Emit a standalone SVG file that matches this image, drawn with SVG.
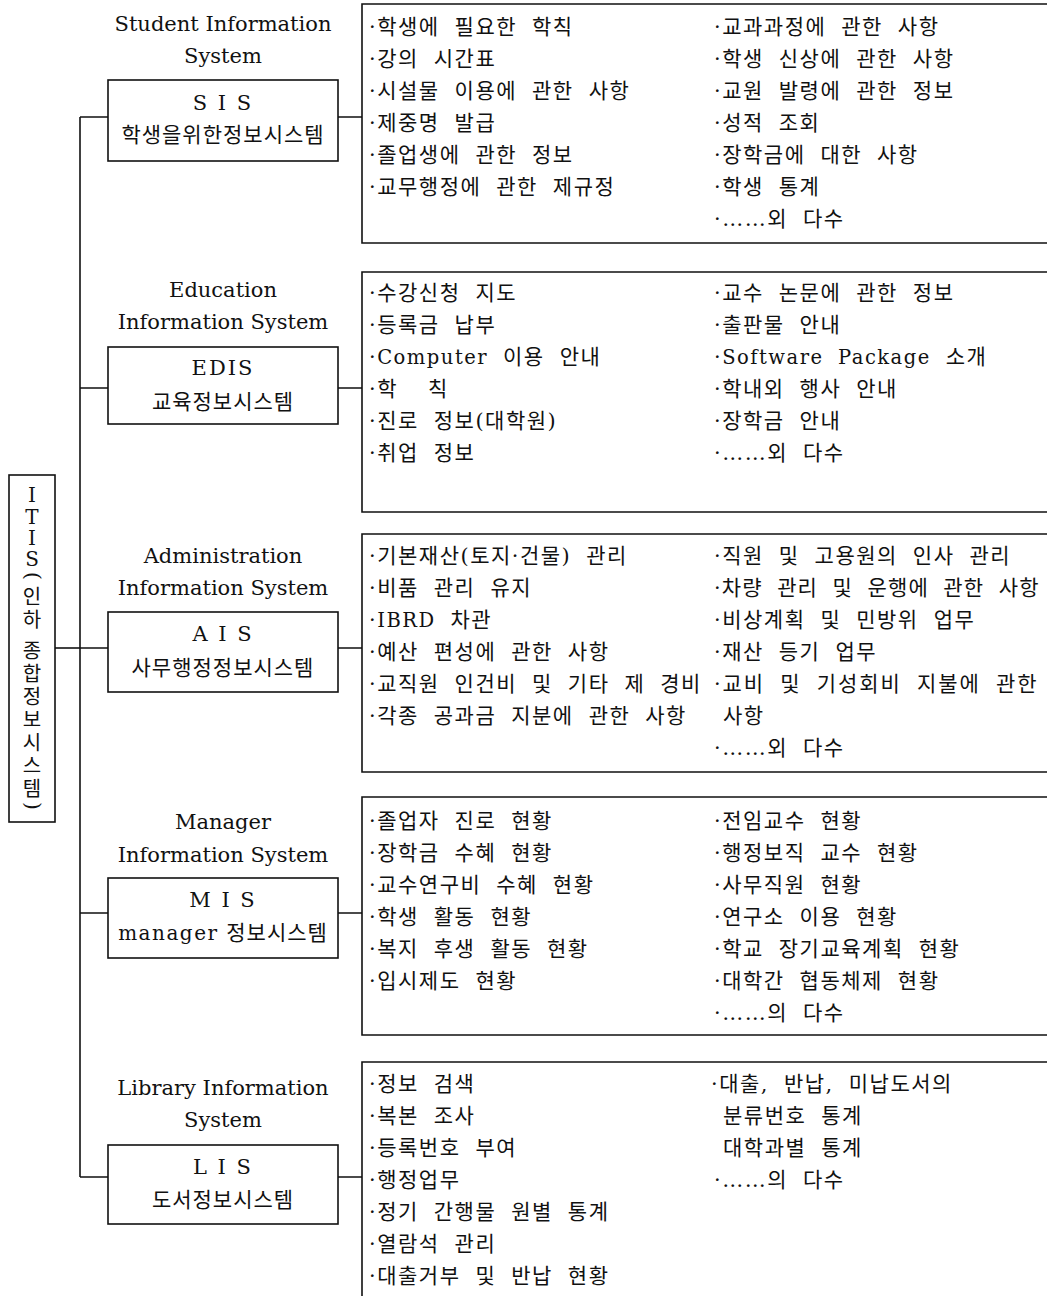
<svg xmlns="http://www.w3.org/2000/svg" width="1047" height="1296" viewBox="0 0 1047 1296">
<style>
.bg{fill:#fff}
.ln{stroke:#111;stroke-width:1.6;fill:none}
.box{stroke:#111;stroke-width:1.6;fill:none}
.ttl{font-family:"DejaVu Serif","Liberation Serif",serif;font-size:21px;fill:#111;text-anchor:middle}
.code{font-family:"DejaVu Serif","Liberation Serif",serif;font-size:21px;fill:#111;text-anchor:middle;letter-spacing:2px}
.kn{font-family:"DejaVu Serif","Noto Sans CJK KR",sans-serif;font-size:21px;fill:#111;text-anchor:middle;letter-spacing:1px}
.it{font-family:"DejaVu Serif","Noto Sans CJK KR",sans-serif;font-size:21px;fill:#111;letter-spacing:1.5px;word-spacing:6.8px}
.lat{font-size:19.5px}
.lat2{font-size:20px;letter-spacing:1.5px}
.vt{font-family:"DejaVu Serif","Noto Sans CJK KR",sans-serif;font-size:20px;fill:#111;text-anchor:middle}
</style>
<rect class="bg" x="0" y="0" width="1047" height="1296"/>

<g id="connectors">
  <path class="ln" d="M55,648 H80"/>
  <path class="ln" d="M80,117 V1177"/>
  <path class="ln" d="M80,117 H108 M80,388 H108 M80,648 H108 M80,913 H108 M80,1177 H108"/>
  <path class="ln" d="M338,117 H362 M338,388 H362 M338,648 H362 M338,913 H362 M338,1177 H362"/>
</g>

<g id="itis">
  <rect class="box" x="9" y="475" width="46" height="347"/>
  <text class="vt" x="32 32 32 32 29.6 32 32 32 32 32 32 32 32 32 32 29.6" y="502 524 545 566 572 604.4 627.4 640 658.4 681.4 704.4 727.4 750.4 773.4 796.4 802" rotate="0 0 0 0 90 0 0 0 0 0 0 0 0 0 0 90">ITIS(인하 종합정보시스템)</text>
</g>

<g id="sis">
  <text class="ttl" x="223" y="31">Student Information</text>
  <text class="ttl" x="223" y="63">System</text>
  <rect class="box" x="108" y="80" width="230" height="81"/>
  <text class="code" x="223" y="110">S I S</text>
  <text class="kn" x="223" y="142">학생을위한정보시스템</text>
</g>
<g id="sis-items">
  <path class="ln" d="M1047,4 H362 V243 H1047"/>
  <text class="it" x="369" y="34">·학생에 필요한 학칙</text>
  <text class="it" x="369" y="66">·강의 시간표</text>
  <text class="it" x="369" y="98">·시설물 이용에 관한 사항</text>
  <text class="it" x="369" y="130">·제중명 발급</text>
  <text class="it" x="369" y="162">·졸업생에 관한 정보</text>
  <text class="it" x="369" y="194">·교무행정에 관한 제규정</text>
  <text class="it" x="714" y="34">·교과과정에 관한 사항</text>
  <text class="it" x="714" y="66">·학생 신상에 관한 사항</text>
  <text class="it" x="714" y="98">·교원 발령에 관한 정보</text>
  <text class="it" x="714" y="130">·성적 조회</text>
  <text class="it" x="714" y="162">·장학금에 대한 사항</text>
  <text class="it" x="714" y="194">·학생 통계</text>
  <text class="it" x="714" y="226">·……외 다수</text>
</g>

<g id="edis">
  <text class="ttl" x="223" y="297">Education</text>
  <text class="ttl" x="223" y="329">Information System</text>
  <rect class="box" x="108" y="347" width="230" height="77"/>
  <text class="code" x="223" y="375">EDIS</text>
  <text class="kn" x="223" y="409">교육정보시스템</text>
</g>
<g id="edis-items">
  <path class="ln" d="M1047,272 H362 V512 H1047"/>
  <text class="it" x="369" y="300">·수강신청 지도</text>
  <text class="it" x="369" y="332">·등록금 납부</text>
  <text class="it" x="369" y="364">·<tspan class="lat">Computer</tspan> 이용 안내</text>
  <text class="it" x="369" y="396" xml:space="preserve">·학  칙</text>
  <text class="it" x="369" y="428">·진로 정보(대학원)</text>
  <text class="it" x="369" y="460">·취업 정보</text>
  <text class="it" x="714" y="300">·교수 논문에 관한 정보</text>
  <text class="it" x="714" y="332">·출판물 안내</text>
  <text class="it" x="714" y="364">·<tspan class="lat">Software Package</tspan> 소개</text>
  <text class="it" x="714" y="396">·학내외 행사 안내</text>
  <text class="it" x="714" y="428">·장학금 안내</text>
  <text class="it" x="714" y="460">·……외 다수</text>
</g>

<g id="ais">
  <text class="ttl" x="223" y="563">Administration</text>
  <text class="ttl" x="223" y="595">Information System</text>
  <rect class="box" x="108" y="612" width="230" height="80"/>
  <text class="code" x="223" y="641">A I S</text>
  <text class="kn" x="223" y="675">사무행정정보시스템</text>
</g>
<g id="ais-items">
  <path class="ln" d="M1047,534 H362 V772 H1047"/>
  <text class="it" x="369" y="563">·기본재산(토지·건물) 관리</text>
  <text class="it" x="369" y="595">·비품 관리 유지</text>
  <text class="it" x="369" y="627">·<tspan class="lat">IBRD</tspan> 차관</text>
  <text class="it" x="369" y="659">·예산 편성에 관한 사항</text>
  <text class="it" x="369" y="691">·교직원 인건비 및 기타 제 경비</text>
  <text class="it" x="369" y="723">·각종 공과금 지분에 관한 사항</text>
  <text class="it" x="714" y="563">·직원 및 고용원의 인사 관리</text>
  <text class="it" x="714" y="595" textLength="326" lengthAdjust="spacing">·차량 관리 및 운행에 관한 사항</text>
  <text class="it" x="714" y="627">·비상계획 및 민방위 업무</text>
  <text class="it" x="714" y="659">·재산 등기 업무</text>
  <text class="it" x="714" y="691" textLength="324" lengthAdjust="spacing">·교비 및 기성회비 지불에 관한</text>
  <text class="it" x="723" y="723">사항</text>
  <text class="it" x="714" y="755">·……외 다수</text>
</g>

<g id="mis">
  <text class="ttl" x="223" y="829">Manager</text>
  <text class="ttl" x="223" y="862">Information System</text>
  <rect class="box" x="108" y="878" width="230" height="80"/>
  <text class="code" x="223" y="907">M I S</text>
  <text class="kn" x="223" y="940"><tspan class="lat2">manager</tspan> 정보시스템</text>
</g>
<g id="mis-items">
  <path class="ln" d="M1047,797 H362 V1035 H1047"/>
  <text class="it" x="369" y="828">·졸업자 진로 현황</text>
  <text class="it" x="369" y="860">·장학금 수혜 현황</text>
  <text class="it" x="369" y="892">·교수연구비 수혜 현황</text>
  <text class="it" x="369" y="924">·학생 활동 현황</text>
  <text class="it" x="369" y="956">·복지 후생 활동 현황</text>
  <text class="it" x="369" y="988">·입시제도 현황</text>
  <text class="it" x="714" y="828">·전임교수 현황</text>
  <text class="it" x="714" y="860">·행정보직 교수 현황</text>
  <text class="it" x="714" y="892">·사무직원 현황</text>
  <text class="it" x="714" y="924">·연구소 이용 현황</text>
  <text class="it" x="714" y="956">·학교 장기교육계획 현황</text>
  <text class="it" x="714" y="988">·대학간 협동체제 현황</text>
  <text class="it" x="714" y="1020">·……의 다수</text>
</g>

<g id="lis">
  <text class="ttl" x="223" y="1095">Library Information</text>
  <text class="ttl" x="223" y="1127">System</text>
  <rect class="box" x="108" y="1145" width="230" height="79"/>
  <text class="code" x="223" y="1174">L I S</text>
  <text class="kn" x="223" y="1207">도서정보시스템</text>
</g>
<g id="lis-items">
  <path class="ln" d="M1047,1062 H362 V1296"/>
  <text class="it" x="369" y="1091">·정보 검색</text>
  <text class="it" x="369" y="1123">·복본 조사</text>
  <text class="it" x="369" y="1155">·등록번호 부여</text>
  <text class="it" x="369" y="1187">·행정업무</text>
  <text class="it" x="369" y="1219">·정기 간행물 원별 통계</text>
  <text class="it" x="369" y="1251">·열람석 관리</text>
  <text class="it" x="369" y="1283">·대출거부 및 반납 현황</text>
  <text class="it" x="711" y="1091">·대출, 반납, 미납도서의</text>
  <text class="it" x="723" y="1123">분류번호 통계</text>
  <text class="it" x="723" y="1155">대학과별 통계</text>
  <text class="it" x="714" y="1187">·……의 다수</text>
</g>
</svg>
